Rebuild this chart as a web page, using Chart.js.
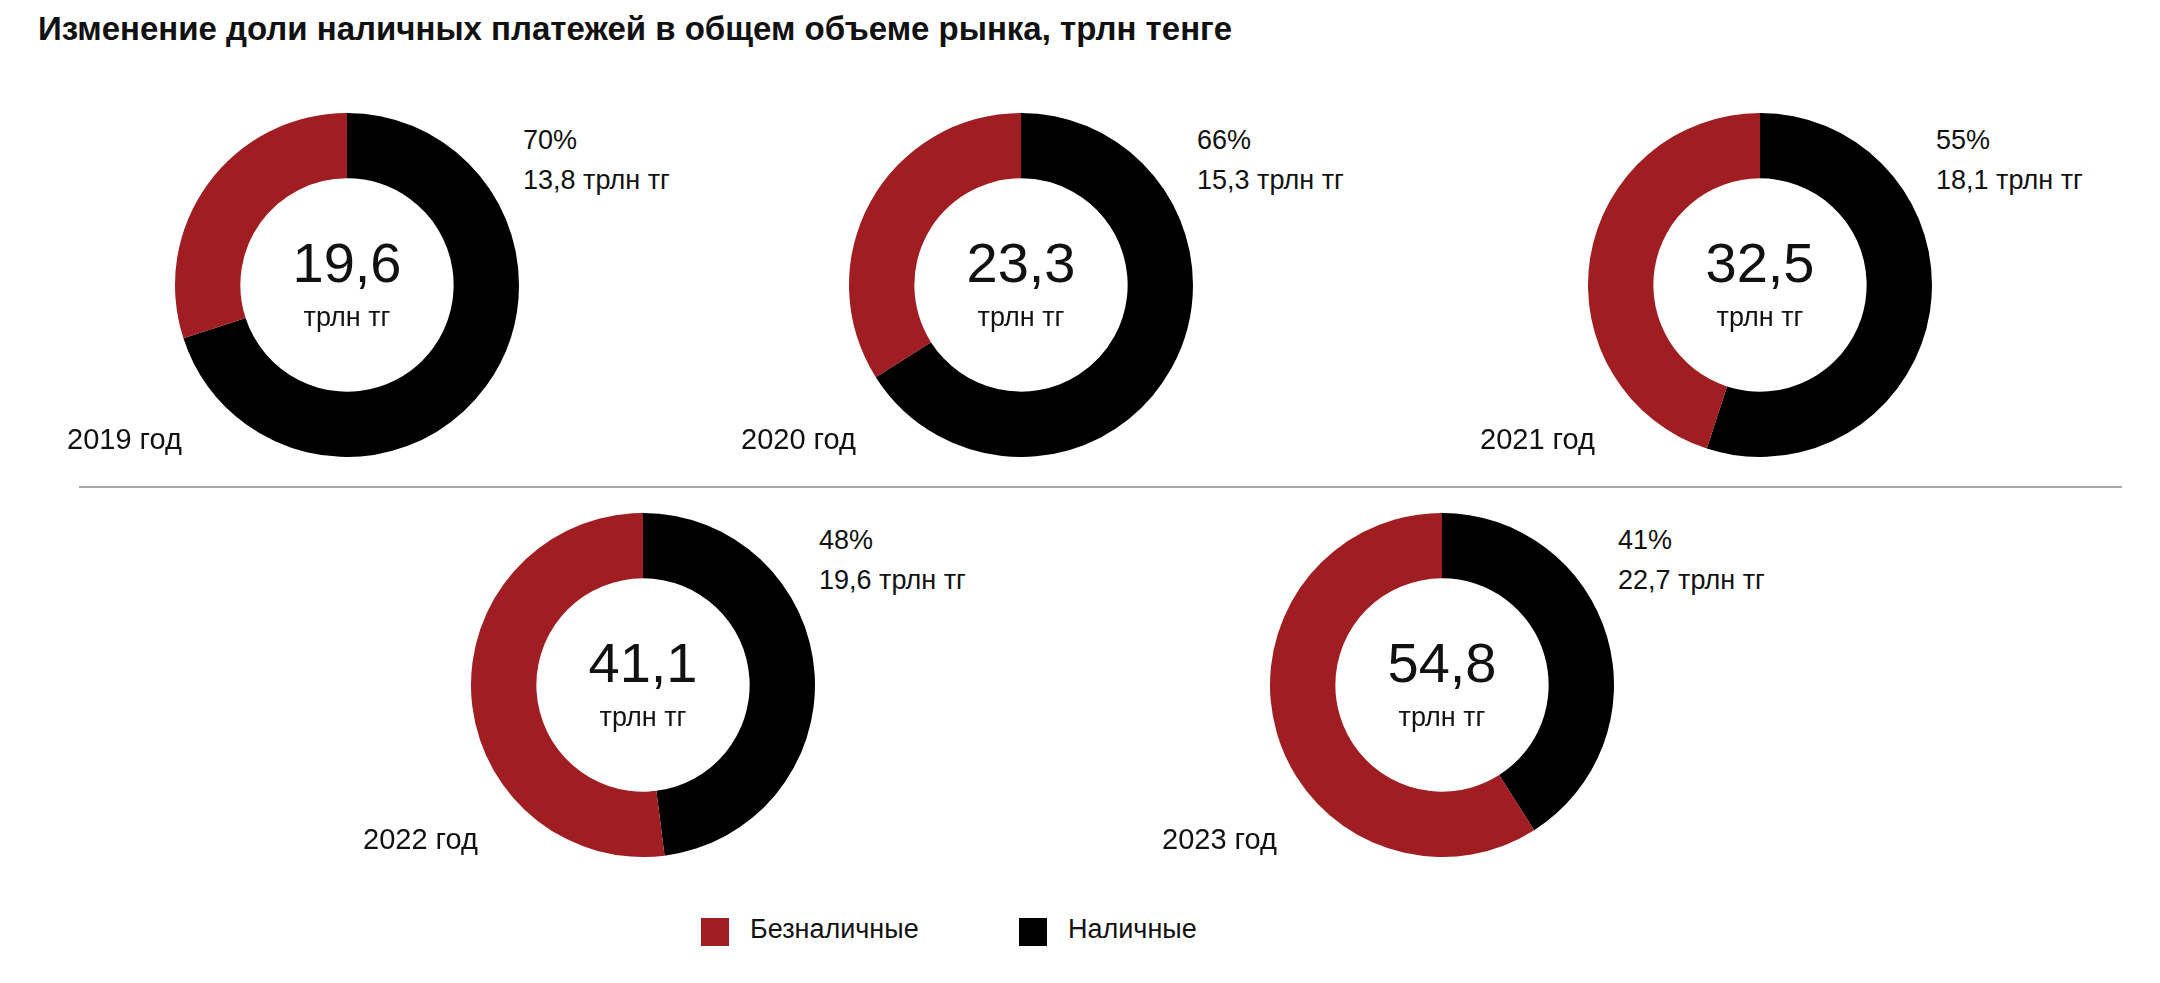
<!DOCTYPE html>
<html><head><meta charset="utf-8">
<script src="https://cdn.jsdelivr.net/npm/chart.js@4"></script>
<style>
body{margin:0;width:2160px;height:983px;background:#fff;position:relative;font-family:"Liberation Sans",Arial,sans-serif;overflow:hidden}
.t{position:absolute;color:#111;white-space:nowrap}
canvas{position:absolute}
</style></head><body>
<div class="t" style="left:38px;top:10px;font-size:33px;font-weight:bold">Изменение доли наличных платежей в общем объеме рынка, трлн тенге</div>
<div style="position:absolute;left:79px;top:486px;width:2043px;height:2px;background:#a6a6a6"></div>
<script>
const years = ["2019 год","2020 год","2021 год","2022 год","2023 год"];
const totals = ["19,6","23,3","32,5","41,1","54,8"];
const cashShare = [70,66,55,48,41];
const nonCashShare = [30,34,45,52,59];
const cashLabels = ["13,8 трлн тг","15,3 трлн тг","18,1 трлн тг","19,6 трлн тг","22,7 трлн тг"];
const seriesNames = ["Наличные","Безналичные"];
const colors = ["#000000","#a01e22"];
const centers = [[347,285],[1021,285],[1760,285],[643,685],[1442,685]];
const R = 172;
function addText(txt,x,y,size,extra){const d=document.createElement('div');d.className='t';d.textContent=txt;d.style.left=x+'px';d.style.top=y+'px';d.style.fontSize=size+'px';if(extra)Object.assign(d.style,extra);document.body.appendChild(d);return d;}
centers.forEach(([cx,cy],i)=>{
  const c=document.createElement('canvas');
  c.style.left=(cx-R)+'px';c.style.top=(cy-R)+'px';c.style.width=2*R+'px';c.style.height=2*R+'px';
  c.width=2*R;c.height=2*R;document.body.appendChild(c);
  new Chart(c,{type:'doughnut',data:{labels:seriesNames,datasets:[{data:[cashShare[i],nonCashShare[i]],backgroundColor:colors,borderWidth:0}]},
    options:{responsive:false,animation:false,cutout:'62%',plugins:{legend:{display:false},tooltip:{enabled:false}}}});
  addText(totals[i],cx-100,cy-55,56,{width:'200px',textAlign:'center'});
  addText("трлн тг",cx-100,cy+17,27,{width:'200px',textAlign:'center'});
  addText(cashShare[i]+"%",cx+176,cy-160,27);
  addText(cashLabels[i],cx+176,cy-120,27);
  addText(years[i],cx-280,cy+138,29);
});
[[701,"Безналичные",colors[1]],[1019,"Наличные",colors[0]]].forEach(([x,t,col])=>{
  const s=document.createElement('div');s.style.cssText=`position:absolute;left:${x}px;top:918px;width:28px;height:28px;background:${col}`;document.body.appendChild(s);
  addText(t,x+49,914,27);
});
</script>
</body></html>
